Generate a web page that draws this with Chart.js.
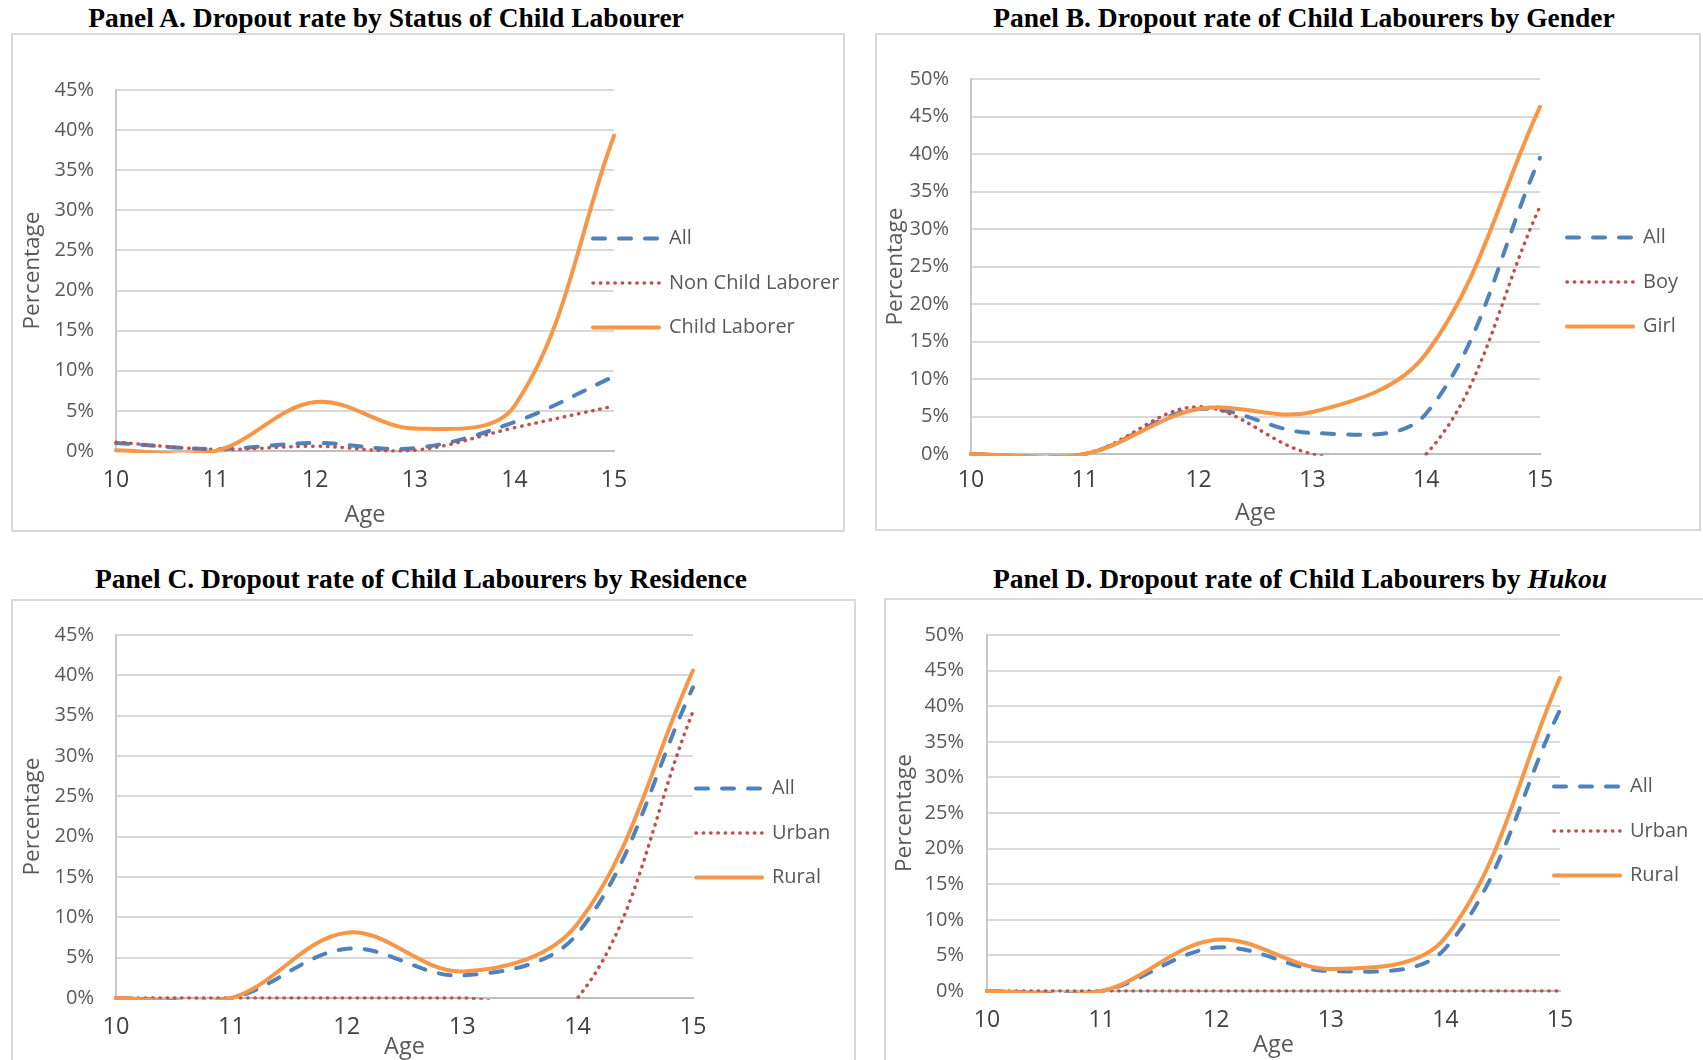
<!DOCTYPE html>
<html>
<head>
<meta charset="utf-8">
<script src="https://cdn.jsdelivr.net/npm/chart.js@4.4.1/dist/chart.umd.min.js"></script>
<style>
body { margin: 0; background: #fff; width: 1703px; height: 1060px; position: relative; overflow: hidden; }
.title { position: absolute; width: 900px; text-align: center; font-family: "Liberation Serif", serif; font-weight: bold; font-size: 27.5px; line-height: 30px; color: #000; white-space: nowrap; }
.box { position: absolute; border: 2px solid #D9D9D9; }
canvas { display: block; }
</style>
</head>
<body>
<div class="title" style="left:-64px; top:3px">Panel A. Dropout rate by Status of Child Labourer</div>
<div class="title" style="left:854px; top:3px">Panel B. Dropout rate of Child Labourers by Gender</div>
<div class="title" style="left:-29px; top:564px">Panel C. Dropout rate of Child Labourers by Residence</div>
<div class="title" style="left:850px; top:564px">Panel D. Dropout rate of Child Labourers by <i>Hukou</i></div>

<div class="box" style="left:11px; top:33px"><canvas id="panelA" width="830" height="495"></canvas></div>
<div class="box" style="left:875px; top:33px"><canvas id="panelB" width="822" height="494"></canvas></div>
<div class="box" style="left:11px; top:599px"><canvas id="panelC" width="841" height="462"></canvas></div>
<div class="box" style="left:884px; top:598px"><canvas id="panelD" width="819" height="462"></canvas></div>

<script>
// ages on the x axis
const ages = ['10', '11', '12', '13', '14', '15'];

// Panel A - by status of child labourer (percent)
const allA = [1.0, 0.25, 1.0, 0.35, 3.6, 9.3];
const nonChildA = [1.1, 0.2, 0.6, 0.1, 2.9, 5.6];
const childA = [0.1, 0.0, 6.1, 2.8, 5.6, 39.3];

// Panel B - by gender
const allB = [0, 0, 6.0, 2.8, 5.4, 39.5];
const boyB = [0, 0, 6.3, 0, 0, 33.0];
const girlB = [0, 0, 6.0, 5.6, 13.4, 46.3];

// Panel C - by residence
const allC = [0, 0, 6.1, 2.8, 8.0, 38.5];
const urbanC = [0, 0, 0, 0, 0, 35.5];
const ruralC = [0, 0, 8.1, 3.3, 9.2, 40.6];

// Panel D - by hukou
const allD = [0, 0, 6.1, 2.8, 6.0, 39.5];
const urbanD = [0, 0, 0, 0, 0, 0];
const ruralD = [0, 0, 7.2, 3.1, 7.5, 44.0];

// y axis tops (tick labels run 0% .. max% in 5% steps)
const yMaxA = 45, yMaxB = 50, yMaxC = 45, yMaxD = 50;
const yStep = 5;

const BLUE = '#4F81BD', RED = '#C0504D', ORANGE = '#F79646';
const LEGEND_PAD = 24.5;

function dashed(label, data) {
    return { label: label, data: data, borderColor: BLUE, backgroundColor: BLUE, borderWidth: 4,
             borderDash: [12, 14], borderCapStyle: 'round', order: 3 };
}
function dotted(label, data) {
    return { label: label, data: data, borderColor: RED, backgroundColor: RED, borderWidth: 3.5,
             borderDash: [0.4, 6.9], borderCapStyle: 'round', order: 2 };
}
function solid(label, data) {
    return { label: label, data: data, borderColor: ORANGE, backgroundColor: ORANGE, borderWidth: 4,
             borderCapStyle: 'round', order: 1 };
}

// legend samples should look like the lines themselves (dash, width)
function lineLabels(chart) {
    return Chart.defaults.plugins.legend.labels.generateLabels(chart).map(item => {
        const ds = chart.data.datasets[item.datasetIndex];
        item.lineDash = ds.borderDash || [];
        item.lineWidth = ds.borderWidth;
        item.lineCap = ds.borderCapStyle;
        item.strokeStyle = ds.borderColor;
        return item;
    });
}

// Excel puts the legend partly over the plot, so move it after layout
const legendSpot = {
    id: 'legendSpot',
    afterLayout(chart, args, opts) {
        const lg = chart.legend;
        lg.left = opts.x - LEGEND_PAD;
        lg.right = chart.width;
        lg.width = lg.right - lg.left;
        lg.top = opts.cy - 100;
        lg.bottom = opts.cy + 100;
        lg.height = 200;
    }
};

function makePanel(id, datasets, p) {
    const ctx = document.getElementById(id).getContext('2d');
    const config = {
        type: 'line',
        data: { labels: ages, datasets: datasets },
        options: {
            responsive: false,
            animation: false,
            layout: { padding: { top: p.top, right: p.right, left: 0, bottom: 0 } },
            elements: {
                point: { radius: 0, hoverRadius: 0 },
                line: { tension: 0.36, capBezierPoints: false, fill: false }
            },
            scales: {
                x: {
                    grid: { display: false },
                    border: { display: true, color: '#BFBFBF', width: 2 },
                    ticks: { color: '#404040', font: { family: 'Open Sans', size: p.xFont }, padding: p.xPad,
                             maxRotation: 0, autoSkip: false },
                    title: { display: true, text: 'Age', color: '#595959',
                             font: { family: 'Open Sans', size: 23.5 }, padding: { top: 0, bottom: p.agePad } },
                    afterFit: s => { s.height = p.xHeight; }
                },
                y: {
                    beginAtZero: true,
                    max: p.max,
                    grid: { drawTicks: false, lineWidth: 2,
                            color: c => c.tick && c.tick.value === 0 ? '#BFBFBF' : '#D9D9D9' },
                    border: { display: true, color: '#C8C8C8', width: 2 },
                    ticks: { stepSize: yStep, color: '#595959', font: { family: 'Open Sans', size: 20 },
                             padding: p.yPad, callback: v => v + '%' },
                    title: { display: true, text: 'Percentage', color: '#595959',
                             font: { family: 'Open Sans', size: 22.5 }, padding: { top: p.pctPad, bottom: 0 } },
                    afterFit: s => { s.width = p.yWidth; }
                }
            },
            plugins: {
                legend: {
                    position: 'right',
                    maxWidth: 1,
                    labels: {
                        usePointStyle: true,
                        pointStyle: 'line',
                        pointStyleWidth: 66,
                        padding: LEGEND_PAD,
                        color: '#595959',
                        font: { family: 'Open Sans', size: 20 },
                        generateLabels: lineLabels,
                        sort: (a, b) => a.datasetIndex - b.datasetIndex
                    }
                },
                tooltip: { enabled: false },
                legendSpot: { x: p.legendX, cy: p.legendY }
            }
        },
        plugins: [legendSpot]
    };
    return new Chart(ctx, config);
}

var chartA = makePanel('panelA',
    [dashed('All', allA), dotted('Non Child Laborer', nonChildA), solid('Child Laborer', childA)],
    { top: 55, right: 228, yWidth: 103, xHeight: 79, max: yMaxA, xFont: 23, xPad: 8, yPad: 22,
      agePad: 0.5, pctPad: 6.5, legendX: 580, legendY: 248 });

var chartB = makePanel('panelB',
    [dashed('All', allB), dotted('Boy', boyB), solid('Girl', girlB)],
    { top: 44, right: 158, yWidth: 94, xHeight: 75, max: yMaxB, xFont: 23, xPad: 5, yPad: 22,
      agePad: 1.3, pctPad: 5.5, legendX: 690, legendY: 247 });

var chartC = makePanel('panelC',
    [dashed('All', allC), dotted('Urban', urbanC), solid('Rural', ruralC)],
    { top: 25, right: 160, yWidth: 103, xHeight: 65, max: yMaxC, xFont: 23.5, xPad: 7.5, yPad: 22,
      agePad: 1.3, pctPad: 6.5, legendX: 683, legendY: 232 });

var chartD = makePanel('panelD',
    [dashed('All', allD), dotted('Urban', urbanD), solid('Rural', ruralD)],
    { top: 31, right: 144, yWidth: 101, xHeight: 71, max: yMaxD, xFont: 23, xPad: 8, yPad: 23,
      agePad: 2.5, pctPad: 5.5, legendX: 668, legendY: 231 });
</script>
</body>
</html>
